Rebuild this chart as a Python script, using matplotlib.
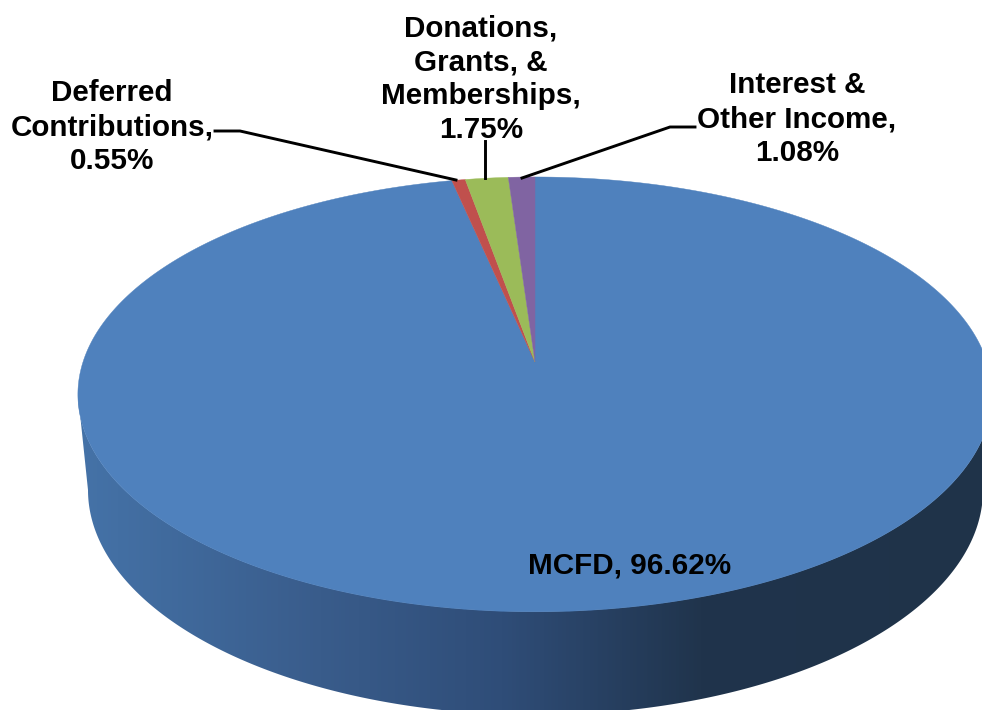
#!/usr/bin/env python3
import matplotlib
matplotlib.use('Agg')
import matplotlib.pyplot as plt
from matplotlib.colors import LinearSegmentedColormap
from matplotlib.patches import Polygon
import numpy as np

# clockwise from 12 o'clock
categories = ['MCFD', 'Deferred\nContributions', 'Donations,\nGrants, &\nMemberships', 'Interest &\nOther Income']
values = [96.62, 0.55, 1.75, 1.08]
slice_colors = ['#4F81BD', '#C0504D', '#9BBB59', '#8064A2']

# perspective of the top face, in pixels
APEX_X, APEX_Y = 535, 362
TILT = 0.149
SCALE_Y = 212.6
SCALE_X = 452

side_stops = [(0.0, '#4573A8'), (0.27, '#395C8B'), (0.47, '#2F4D78'), (0.69, '#20344C'), (1.0, '#1F3349')]


def projectRim(pct_from, pct_to):
    # pct measured clockwise from the top of the circle
    n = max(int((pct_to - pct_from) * 6), 2)
    t = np.radians(np.linspace(pct_from, pct_to, n) * 3.6)
    u, v = np.sin(t), np.cos(t)
    w = 1 + TILT * v
    return APEX_X + SCALE_X * u / w, APEX_Y - SCALE_Y * v / w


def plotSide(ax):
    t = np.radians(np.linspace(90, 270, 400))
    top_x = 535 + 457 * np.sin(t)
    top_y = 394.5 - 217 * np.cos(t)
    bot_x = 535.5 + 447.5 * np.sin(t)
    bot_y = 490 - 225 * np.cos(t)
    verts = np.column_stack([np.r_[top_x, bot_x[::-1]], np.r_[top_y, bot_y[::-1]]])
    clip = Polygon(verts, closed=True, transform=ax.transData, facecolor='none', edgecolor='none')
    ax.add_patch(clip)
    cmap = LinearSegmentedColormap.from_list('side', side_stops)
    img = ax.imshow(np.linspace(0, 1, 512).reshape(1, -1), cmap=cmap, aspect='auto',
                    extent=(75, 985, 730, 380), zorder=1)
    img.set_clip_path(clip)


def plotTop(ax):
    start = 0
    for value, color in zip(values, slice_colors):
        x, y = projectRim(start, start + value)
        verts = np.column_stack([np.r_[APEX_X, x], np.r_[APEX_Y, y]])
        ax.add_patch(Polygon(verts, closed=True, facecolor=color, edgecolor=color, linewidth=0.3, zorder=2))
        start += value


fig = plt.figure(figsize=(9.82, 7.10), dpi=100)
ax = fig.add_axes([0, 0, 1, 1])
plotSide(ax)
plotTop(ax)
ax.set_xlim(0, 982)
ax.set_ylim(710, 0)
ax.axis('off')

# leader lines
for xs, ys in [([215, 240, 456], [131, 131, 180]),
               ([485, 485], [141, 178]),
               ([695, 670, 522], [127, 127, 178])]:
    ax.plot(xs, ys, color='black', linewidth=2.1, solid_joinstyle='miter', zorder=3)

font = dict(family=['Liberation Sans'], fontsize=21.3, fontweight='bold', color='black',
            ha='center', va='center', linespacing=1.27, zorder=4)
pct = ['%.2f%%' % v for v in values]
ax.text(112, 127, categories[1] + ',\n' + pct[1], **font)
ax.text(481, 79, categories[2] + ',\n' + pct[2], **font)
ax.text(797, 119, categories[3] + ',\n' + pct[3], **font)
ax.text(630, 566, categories[0] + ', ' + pct[0], **font)

fig.savefig('out.png', dpi=100)
